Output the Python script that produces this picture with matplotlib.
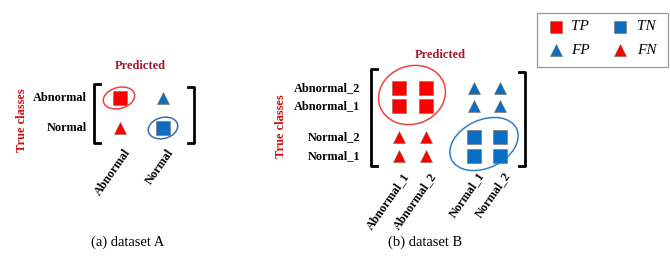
import matplotlib.pyplot as plt
from matplotlib.patches import Ellipse, Rectangle

# Data: class names and outcome of every (true, predicted) cell
rows_a = ['Abnormal', 'Normal']
cols_a = ['Abnormal', 'Normal']
outcome_a = [['TP', 'FP'],
             ['FN', 'TN']]

rows_b = ['Abnormal_2', 'Abnormal_1', 'Normal_2', 'Normal_1']
cols_b = ['Abnormal_1', 'Abnormal_2', 'Normal_1', 'Normal_2']
outcome_b = [['TP', 'TP', 'FP', 'FP'],
             ['TP', 'TP', 'FP', 'FP'],
             ['FN', 'FN', 'TN', 'TN'],
             ['FN', 'FN', 'TN', 'TN']]

legend_keys = [['TP', 'TN'], ['FP', 'FN']]
captions = ['(a) dataset A', '(b) dataset B']

# Styles for each outcome
RED = '#ff0000'
BLUE = '#0a6fc2'
style = {'TP': ('s', RED), 'TN': ('s', BLUE),
         'FP': ('^', BLUE), 'FN': ('^', RED)}

SERIF = 'Liberation Serif'
LABEL_COLOR = '#a01a30'
TRUE_COLOR = '#d01010'
EDGE = '#8a6a50'

fig = plt.figure(figsize=(6.7, 2.61), dpi=100)
ax = fig.add_axes([0, 0, 1, 1])
ax.set_xlim(0, 670)
ax.set_ylim(261, 0)
ax.axis('off')


def marker(x, y, key, sq=9.5, tri=9):
    m, col = style[key]
    ax.plot(x, y, marker=m, color=col, markersize=sq if m == 's' else tri,
            markeredgecolor=EDGE, markeredgewidth=0.4, linestyle='none')


def draw_panel(rows, cols, outcome, xs, ys, lab_x, lab_size, bracket, pred_xy, true_xy, ell, cap_xy, caption):
    # cell markers
    for i in range(len(rows)):
        for j in range(len(cols)):
            marker(xs[j], ys[i], outcome[i][j])
    # row labels
    for i, r in enumerate(rows):
        ax.text(lab_x, ys[i], r, ha='right', va='center', family=SERIF,
                fontweight='bold', fontsize=lab_size)
    # column labels, rotated
    for j, c in enumerate(cols):
        ax.text(xs[j] + 3, bracket[3] + 4, c, ha='right', va='top', rotation=55,
                rotation_mode='anchor', family=SERIF, fontweight='bold', fontsize=lab_size)
    # brackets
    x0, x1, y0, y1 = bracket
    tick = 6
    ax.plot([x0 + tick, x0, x0, x0 + tick], [y0, y0, y1, y1], color='black', lw=2)
    ax.plot([x1 - tick, x1, x1, x1 - tick], [y0 + 3, y0 + 3, y1, y1], color='black', lw=2)
    ax.text(pred_xy[0], pred_xy[1], 'Predicted', ha='center', va='center', family=SERIF,
            fontweight='bold', fontsize=9, color=LABEL_COLOR)
    ax.text(true_xy[0], true_xy[1], 'True classes', ha='center', va='center', rotation=90,
            family=SERIF, fontweight='bold', fontsize=9, color=TRUE_COLOR)
    for (cx, cy, w, h, ang, col) in ell:
        ax.add_patch(Ellipse((cx, cy), w, h, angle=ang, fill=False, edgecolor=col, lw=1.1))
    ax.text(cap_xy[0], cap_xy[1], caption, ha='center', va='center', family=SERIF, fontsize=10.5)


draw_panel(rows_a, cols_a, outcome_a,
           xs=[120, 163], ys=[98, 128], lab_x=87, lab_size=8.8,
           bracket=(94, 194, 84, 143), pred_xy=(140, 66), true_xy=(22, 120),
           ell=[(119, 98, 32, 21, -15, '#f04040'), (163, 128, 30, 21, -15, '#3a6ea8')],
           cap_xy=(128, 242), caption=captions[0])

draw_panel(rows_b, cols_b, outcome_b,
           xs=[399, 426, 474, 500], ys=[88, 106, 137, 156], lab_x=360, lab_size=8.8,
           bracket=(371, 525, 69, 166), pred_xy=(440, 55), true_xy=(281, 126),
           ell=[(412, 95, 68, 58, -20, '#f04040'), (484, 144, 72, 48, -25, '#2e80c8')],
           cap_xy=(425, 242), caption=captions[1])

# legend box, drawn by hand
ax.add_patch(Rectangle((537, 13), 131, 54, fill=False, edgecolor='#999999', lw=0.9))
leg_mx = [556, 620]
leg_tx = [571, 637]
leg_y = [27, 50]
for i, row in enumerate(legend_keys):
    for j, key in enumerate(row):
        marker(leg_mx[j], leg_y[i], key, sq=8.2, tri=8.8)
        ax.text(leg_tx[j], leg_y[i], key, ha='left', va='center', family=SERIF,
                style='italic', fontsize=11)

fig.savefig('out.png', dpi=100)
